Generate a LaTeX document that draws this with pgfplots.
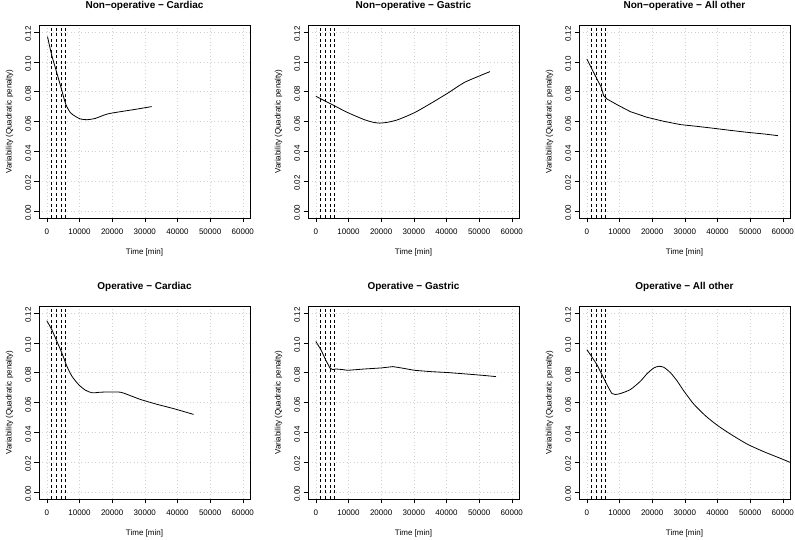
\documentclass[border=0pt]{standalone}
\usepackage{pgfplots}
\pgfplotsset{compat=1.18}
\usepackage{fontspec}
\setmainfont{Liberation Sans}

\pgfplotsset{
  rpanel/.style={
    scale only axis, width=211pt, height=193pt,
    xmin=-2400, xmax=62200, ymin=-0.0048, ymax=0.1248,
    scaled x ticks=false, scaled y ticks=false,
    xtick={0,10000,20000,30000,40000,50000,60000},
    xticklabels={0,10000,20000,30000,40000,50000,60000},
    ytick={0,0.02,0.04,0.06,0.08,0.1,0.12},
    yticklabels={0.00,0.02,0.04,0.06,0.08,0.10,0.12},
    tick align=outside, tick pos=left, major tick length=4.5pt,
    every tick/.style={black, line width=0.6pt},
    axis line style={black, line width=0.8pt},
    grid=major,
    major grid style={draw=black!18, dash pattern=on 1pt off 2.5pt, line width=0.5pt},
    tick label style={font=\fontsize{8}{9}\selectfont},
    xticklabel style={yshift=-3pt},
    yticklabel style={rotate=90, anchor=south, xshift=-2pt},
    xlabel={Time [min]}, ylabel={Variability (Quadratic penalty)},
    label style={font=\fontsize{8}{9}\selectfont},
    xlabel style={at={(axis description cs:0.5,-0.176)}, anchor=center},
    ylabel style={at={(axis description cs:-0.14,0.5)}, anchor=center},
    every axis title shift=0pt,
    title style={font=\bfseries\fontsize{10}{12}\selectfont, at={(axis description cs:0.5,1.097)}, anchor=center, yshift=0pt},
    cycle list={{black, line width=0.8pt, no marks}},
  },
  dline/.style={black, line width=0.75pt, dash pattern=on 3pt off 2.5pt},
  curve/.style={black, line width=0.8pt, smooth, tension=0.4},
}

\newcommand{\dashes}{%
  \addplot[dline] coordinates {(1440,-0.0048) (1440,0.1248)};
  \addplot[dline] coordinates {(2880,-0.0048) (2880,0.1248)};
  \addplot[dline] coordinates {(4320,-0.0048) (4320,0.1248)};
  \addplot[dline] coordinates {(5760,-0.0048) (5760,0.1248)};
}

\begin{document}
\begin{tikzpicture}
\path[use as bounding box] (0pt,0pt) rectangle (795pt,540pt);

% Row 1
\begin{axis}[rpanel, at={(39pt,322pt)}, anchor=south west, title={Non−operative − Cardiac}]
\dashes
\addplot[curve] coordinates {(200,0.1170) (1440,0.1050) (2880,0.0940) (4320,0.0830) (5760,0.0718) (7180,0.0660) (8700,0.0635) (10260,0.0617) (12300,0.0612) (14870,0.0621) (18460,0.0650) (22560,0.0666) (26670,0.0680) (32100,0.0700)};
\end{axis}

\begin{axis}[rpanel, at={(308pt,322pt)}, anchor=south west, title={Non−operative − Gastric}]
\dashes
\addplot[curve] coordinates {(0,0.0769) (4600,0.0718) (9740,0.0660) (14870,0.0612) (17500,0.0595) (19500,0.0589) (22000,0.0595) (25130,0.0612) (30260,0.0660) (35380,0.0724) (40510,0.0792) (45640,0.0864) (53330,0.0935)};
\end{axis}

\begin{axis}[rpanel, at={(579pt,322pt)}, anchor=south west, title={Non−operative − All other}]
\dashes
\addplot[black, line width=0.8pt] coordinates {(0,0.1020) (1540,0.0953) (3080,0.0886) (4410,0.0830) (5130,0.0774) (6150,0.0751) (9740,0.0707) (13330,0.0666) (18460,0.0628) (23590,0.0601) (28720,0.0579) (33850,0.0567) (38970,0.0554) (44100,0.0540) (49230,0.0527) (54360,0.0516) (58460,0.0505)};
\end{axis}

% Row 2
\begin{axis}[rpanel, at={(39pt,41pt)}, anchor=south west, title={Operative − Cardiac}]
\dashes
\addplot[curve] coordinates {(0,0.1149) (1540,0.1088) (3080,0.1010) (4620,0.0932) (6150,0.0843) (7690,0.0776) (9740,0.0720) (11790,0.0683) (13850,0.0665) (16410,0.0669) (19490,0.0671) (22560,0.0669) (24620,0.0654) (28720,0.0620) (33850,0.0587) (38970,0.0558) (44920,0.0520)};
\end{axis}

\begin{axis}[rpanel, at={(308pt,41pt)}, anchor=south west, title={Operative − Gastric}]
\dashes
\addplot[black, line width=0.8pt] coordinates {(0,0.1010) (1540,0.0955) (3080,0.0883) (4310,0.0832) (5130,0.0821) (6150,0.0825) (8210,0.0821) (9740,0.0816) (14870,0.0825) (20000,0.0832) (23590,0.0841) (26150,0.0832) (30260,0.0816) (35380,0.0807) (40510,0.0801) (45640,0.0792) (50770,0.0783) (55150,0.0774)};
\end{axis}

\begin{axis}[rpanel, at={(579pt,41pt)}, anchor=south west, title={Operative − All other}]
\dashes
\addplot[curve] coordinates {(0,0.0955) (1540,0.0906) (3080,0.0854) (4620,0.0787) (6150,0.0720) (7690,0.0660) (8720,0.0654) (10260,0.0660) (13330,0.0687) (16410,0.0743) (18460,0.0794) (20510,0.0832) (22050,0.0843) (23590,0.0836) (25640,0.0799) (27690,0.0743) (29740,0.0676) (32820,0.0587) (36410,0.0509) (40000,0.0446) (44100,0.0386) (49230,0.0319) (54360,0.0268) (59490,0.0223) (62200,0.0198)};
\end{axis}

\end{tikzpicture}
\end{document}
